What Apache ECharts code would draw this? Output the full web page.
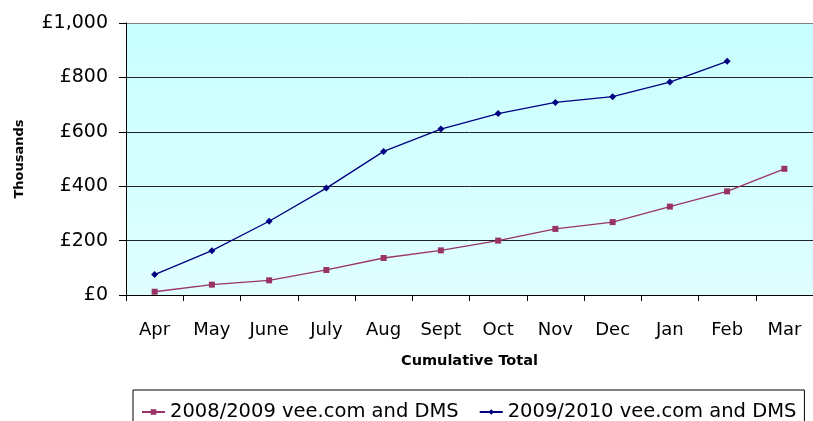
<!DOCTYPE html>
<html>
<head>
<meta charset="utf-8">
<script src="https://cdn.jsdelivr.net/npm/echarts@6/dist/echarts.min.js"></script>
<style>
  html, body { margin: 0; padding: 0; background: #fff; }
  #chart { width: 813px; height: 421px; }
</style>
</head>
<body>
<div id="chart"></div>
<script>
// months of the financial year
var months = ['Apr', 'May', 'June', 'July', 'Aug', 'Sept', 'Oct', 'Nov', 'Dec', 'Jan', 'Feb', 'Mar'];
// cumulative totals, thousands of pounds
var total0809 = [12, 38, 54, 92, 136, 164, 200, 243, 268, 325, 381, 464];
var total0910 = [75, 163, 271, 393, 528, 610, 667, 708, 729, 783, 859, null];
var seriesNames = ['2008/2009 vee.com and DMS', '2009/2010 vee.com and DMS'];

var font = '"DejaVu Sans", sans-serif';
var chart = echarts.init(document.getElementById('chart'));
chart.setOption({
    animation: false,
    textStyle: { fontFamily: font },
    grid: {
        left: 126,
        right: -4,
        top: 23,
        bottom: 126,
        show: true,
        borderWidth: 0,
        backgroundColor: {
            type: 'linear', x: 0, y: 0, x2: 0, y2: 1,
            colorStops: [
                { offset: 0, color: '#c8ffff' },
                { offset: 1, color: '#e0ffff' }
            ]
        }
    },
    legend: {
        data: seriesNames,
        left: 133,
        top: 390,
        padding: [12, 8, 10, 8],
        itemGap: 20,
        itemWidth: 23,
        itemHeight: 7,
        borderColor: '#000',
        borderWidth: 1,
        borderRadius: 0,
        textStyle: { fontSize: 19.5, color: '#000', fontFamily: font }
    },
    xAxis: {
        type: 'category',
        data: months,
        boundaryGap: true,
        name: 'Cumulative Total',
        nameLocation: 'middle',
        nameGap: 59,
        nameTextStyle: { fontSize: 14.5, fontWeight: 'bold', color: '#000' },
        axisLine: { lineStyle: { color: '#000', width: 1 } },
        axisTick: { show: true, length: 6, alignWithLabel: false, lineStyle: { color: '#000' } },
        axisLabel: { fontSize: 18, color: '#000', margin: 26, interval: 0 }
    },
    yAxis: {
        type: 'value',
        min: 0,
        max: 1000,
        interval: 200,
        name: 'Thousands',
        nameLocation: 'middle',
        nameGap: 100,
        nameTextStyle: { fontSize: 13, fontWeight: 'bold', color: '#000' },
        axisLine: { show: true, lineStyle: { color: '#000', width: 1 } },
        axisTick: { show: true, length: 7, lineStyle: { color: '#000' } },
        axisLabel: {
            fontSize: 19,
            color: '#000',
            margin: 18,
            formatter: function (v) {
                return '£' + v.toLocaleString('en-GB');
            }
        },
        splitLine: {
            show: true,
            lineStyle: { color: ['#222', '#222', '#222', '#222', '#222', '#808080'], width: 1 }
        }
    },
    series: [
        {
            name: seriesNames[0],
            type: 'line',
            data: total0809,
            color: '#993366',
            symbol: 'rect',
            symbolSize: 6,
            lineStyle: { width: 1.3, color: '#993366' },
            itemStyle: { color: '#993366' }
        },
        {
            name: seriesNames[1],
            type: 'line',
            data: total0910,
            color: '#000080',
            symbol: 'diamond',
            symbolSize: 7,
            lineStyle: { width: 1.3, color: '#000080' },
            itemStyle: { color: '#000080' }
        }
    ]
});
</script>
</body>
</html>
